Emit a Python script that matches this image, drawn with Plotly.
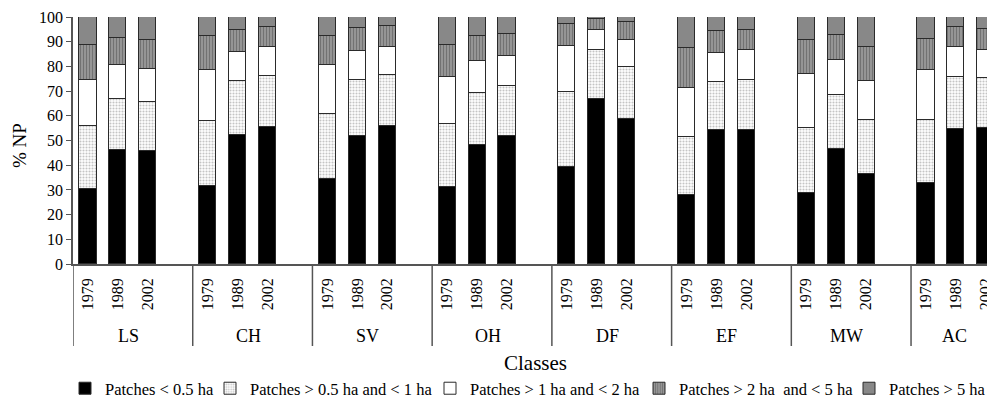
import plotly.graph_objects as go

classes = ["LS", "CH", "SV", "OH", "DF", "EF", "MW", "AC"]
years = ["1979", "1989", "2002"]
series_names = [
    "Patches < 0.5 ha",
    "Patches > 0.5 ha and < 1 ha",
    "Patches > 1 ha and < 2 ha",
    "Patches > 2 ha  and < 5 ha",
    "Patches > 5 ha",
]

# values per class, per year (1979, 1989, 2002)
lt_05 = [30.4, 46.2, 45.8, 31.6, 52.4, 55.3, 34.3, 52.0, 55.7, 31.1, 48.0, 52.0,
         39.2, 66.8, 58.8, 28.0, 54.3, 54.3, 28.9, 46.4, 36.6, 32.6, 54.7, 55.1]
p05_1 = [25.3, 20.7, 19.6, 26.2, 21.7, 20.9, 26.5, 22.3, 20.8, 25.4, 21.3, 20.2,
         30.3, 20.0, 20.9, 23.4, 19.2, 20.3, 26.2, 22.0, 21.8, 25.8, 21.0, 20.2]
p1_2 = [18.9, 13.5, 13.7, 20.6, 11.7, 11.8, 19.6, 12.1, 11.3, 19.4, 13.0, 11.9,
        18.7, 7.8, 11.1, 20.0, 12.0, 11.9, 21.7, 14.0, 15.7, 20.2, 12.1, 11.5]
p2_5 = [14.2, 11.0, 11.4, 13.9, 9.1, 7.8, 11.8, 9.1, 8.6, 12.9, 10.1, 9.1,
        8.8, 4.7, 7.3, 16.0, 9.0, 8.4, 14.0, 10.3, 13.7, 12.5, 8.0, 8.3]
gt_5 = [11.2, 8.6, 9.5, 7.7, 5.1, 4.2, 7.8, 4.5, 3.6, 11.2, 7.6, 6.8,
        3.0, 0.7, 1.9, 12.6, 5.5, 5.1, 9.2, 7.3, 12.2, 8.9, 4.2, 4.9]
y_ticks = list(range(0, 101, 10))

series_values = [lt_05, p05_1, p1_2, p2_5, gt_5]

# slot positions: 4 slots per class (last one empty between classes)
xpos = [4 * g + j for g in range(len(classes)) for j in range(len(years))]
xtext = [y for _ in classes for y in years]

serif = "Liberation Serif, Times New Roman, serif"
outline = dict(color="#2a2a2a", width=1)
slot_px = 29.93
page_off = 8                     # browser body margin
plot_left, plot_w = 73, 922      # page pixels
plot_top, plot_h = 17, 247

styles = [
    dict(color="#000000"),
    dict(color="#ffffff", pattern=dict(shape=".", fgcolor="#8a8a8a", bgcolor="#ffffff", size=3, solidity=0.4)),
    dict(color="#ffffff"),
    dict(color="#9a9a9a", pattern=dict(shape="|", fgcolor="#444444", bgcolor="#a0a0a0", size=3, solidity=0.5)),
    dict(color="#888888"),
]
legend_text_px = [108, 253, 473, 682, 892]


def py(page_y):
    return (plot_top + plot_h - page_y) / plot_h


def px(page_x):
    return (page_x - plot_left) / plot_w


fig = go.Figure()
legend_layouts = {}
for i, (name, vals, st) in enumerate(zip(series_names, series_values, styles)):
    marker = dict(line=outline, **st)
    key = "legend" if i == 0 else f"legend{i + 1}"
    fig.add_trace(go.Bar(x=xpos, y=vals, name=name, width=0.57, marker=marker, legend=key))
    legend_layouts[key] = dict(
        orientation="h", x=px(legend_text_px[i] - 43), xanchor="left",
        y=py(388.5), yanchor="middle",
        font=dict(family=serif, size=16.5, color="#000"), itemwidth=30,
        bgcolor="rgba(0,0,0,0)")

shapes = []
annotations = []
for g in range(len(classes)):
    xb = 4 * g - 0.5
    shapes.append(dict(type="line", xref="x", yref="paper", x0=xb, x1=xb, y0=0, y1=py(346),
                       line=dict(color="#555555", width=1.5)))
for g, c in enumerate(classes):
    xc = 4 * g + (1.35 if g < len(classes) - 1 else 0.95)
    annotations.append(dict(text=c, x=xc, xref="x", y=py(336), yref="paper",
                            showarrow=False, font=dict(family=serif, size=18, color="#000"),
                            xanchor="center", yanchor="middle"))
annotations.append(dict(text="Classes", x=px(535), xref="paper", y=py(363), yref="paper",
                        showarrow=False, font=dict(family=serif, size=21, color="#000"),
                        xanchor="center", yanchor="middle"))
annotations.append(dict(text="% NP", x=px(20), xref="paper", y=py(146), yref="paper",
                        showarrow=False, textangle=-90, font=dict(family=serif, size=19, color="#000"),
                        xanchor="center", yanchor="middle"))

fig_w, fig_h = 995 - page_off, 399 - page_off
fig.update_layout(
    width=fig_w, height=fig_h,
    margin=dict(l=plot_left - page_off, r=fig_w - (plot_left - page_off) - plot_w,
                t=plot_top - page_off, b=fig_h - (plot_top - page_off) - plot_h, autoexpand=False),
    barmode="stack",
    plot_bgcolor="white", paper_bgcolor="white",
    showlegend=True,
    shapes=shapes, annotations=annotations,
    bargap=0,
    **legend_layouts,
)
fig.update_xaxes(range=[-0.5, -0.5 + plot_w / slot_px], tickmode="array", tickvals=xpos, ticktext=xtext,
                 tickangle=-90, tickfont=dict(family=serif, size=16, color="#000"),
                 showline=True, linecolor="#555555", linewidth=1.5, showgrid=False, zeroline=False,
                 ticks="", ticklabelstandoff=6, automargin=False)
fig.update_yaxes(range=[0, 100], tickmode="array", tickvals=y_ticks, showline=True, linecolor="#555555",
                 linewidth=1.5, ticks="outside", ticklen=5, tickcolor="#555555", showgrid=False, zeroline=False,
                 tickfont=dict(family=serif, size=16, color="#000"), automargin=False)

fig.write_html("out.html")
